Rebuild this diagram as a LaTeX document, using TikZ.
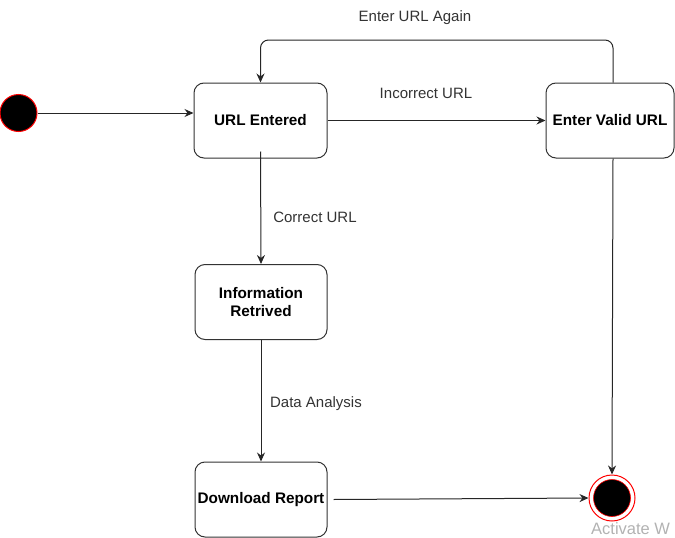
\documentclass[tikz,border=0pt]{standalone}
\usepackage{fontspec}
\setmainfont{Liberation Sans}
\usetikzlibrary{arrows.meta}
\begin{document}
\begin{tikzpicture}[x=1pt,y=-1pt,
  state/.style={draw=black!80, line width=1pt, rounded corners=10pt, fill=white,
    minimum height=75pt, align=center, font=\fontsize{15.3}{18}\selectfont\bfseries, inner sep=2pt},
  arr/.style={draw=black!85, line width=1pt, -{Stealth[length=9pt,width=8pt]}},
  lbl/.style={font=\fontsize{15}{17}\selectfont, text=black!80, inner sep=1pt}]
\useasboundingbox (0,0) rectangle (675,538);
% start state
\node (start) [circle, draw=red, line width=1pt, fill=black, minimum size=37pt, inner sep=0pt] at (18.5,113) {};
% states
\node (ue) [state, minimum width=133pt] at (260.5,120.5) {URL Entered};
\node (evu) [state, minimum width=128pt] at (610,120.5) {Enter Valid URL};
\node (info) [state, minimum width=132pt] at (261,302) {Information\\Retrived};
\node (dl) [state, minimum width=132pt] at (261,499.5) {Download Report};
% end state
\node (endo) [circle, draw=red, line width=1pt, fill=white, minimum size=46pt, inner sep=0pt] at (612,498) {};
\node (endi) [circle, draw=red, line width=0.6pt, fill=black, minimum size=37pt, inner sep=0pt] at (612,498) {};
% connectors
\draw[arr] (start.east) -- (ue.west |- start.east);
\draw[arr] (ue.east) -- (evu.west);
\draw[arr, rounded corners=8pt] ([xshift=3pt]evu.north) |- (400,40) -| (ue.north);
\draw[arr] ([yshift=7pt]ue.south) -- (info.north);
\draw[arr] (info.south) -- (dl.north);
\draw[arr] ([xshift=6pt]dl.east) -- (endo.west);
\draw[arr] ([xshift=3pt]evu.south) -- (endo.north);
% labels
\node[lbl] (l1) at (415,18) {Enter URL Again};
\node[lbl] (l2) at (426,93) {Incorrect URL};
\node[lbl] (l3) at (315,217) {Correct URL};
\node[lbl] (l4) at (316,404) {Data Analysis};
\node[anchor=base west, inner sep=0pt, text=black!30, font=\fontsize{16.5}{19}\selectfont] (wm) at (591,534) {Activate W};
\end{tikzpicture}
\end{document}
